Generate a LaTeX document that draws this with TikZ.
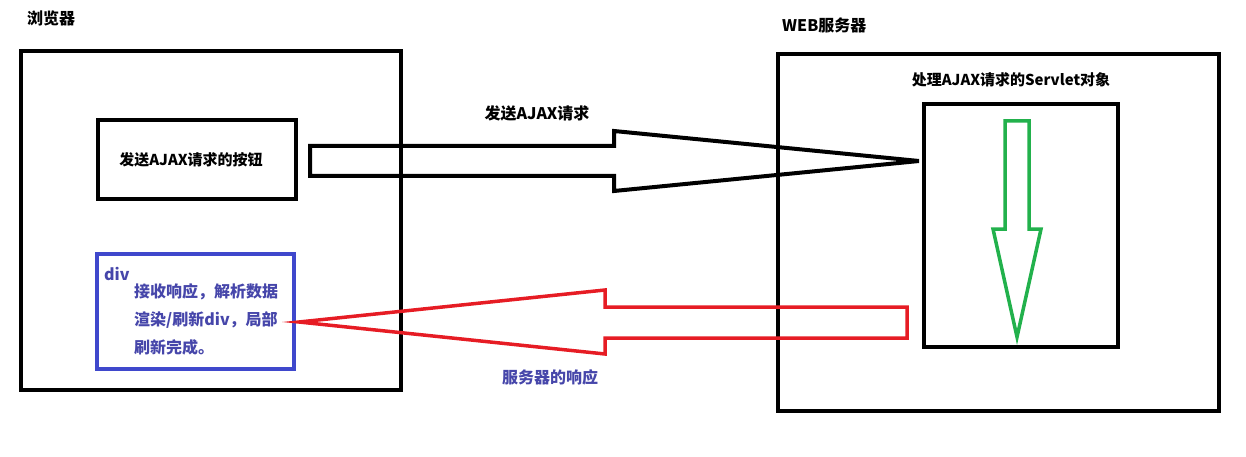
\documentclass[tikz,border=0pt]{standalone}
\usepackage{fontspec}
\setmainfont{Noto Sans CJK SC}
\usepackage{tikz}
\usetikzlibrary{calc}

\definecolor{paintblue}{RGB}{63,72,204}
\definecolor{txtblue}{RGB}{70,70,170}
\definecolor{paintred}{RGB}{230,28,36}
\definecolor{paintgreen}{RGB}{34,177,76}

\begin{document}
\begin{tikzpicture}[x=1pt,y=-1pt,
  box/.style={draw,line width=4pt,inner sep=0pt,outer sep=0pt},
  lbl/.style={font=\fontsize{16}{19}\selectfont\bfseries,inner sep=0pt},
  smalllbl/.style={lbl,font=\fontsize{15}{18}\selectfont\bfseries},
  blockarrow/.style={line width=4pt,line join=miter}]

 \useasboundingbox (0,0) rectangle (1246,457);

% browser side
 \node[box,minimum width=380pt,minimum height=339pt] (browser) at (211,220.5) {};
 \node[lbl,anchor=west] (browserlbl) at (27,18) {浏览器};
 \node[box,minimum width=198pt,minimum height=79pt] (button) at (197,159.5) {};
 \node[smalllbl] (buttonlbl) at ($(button.center)+(-6,0)$) {发送AJAX请求的按钮};
 \node[box,draw=paintblue,line width=3.5pt,minimum width=197pt,minimum height=115pt] (div) at (195.5,311.5) {};
 \node[lbl,text=txtblue,anchor=west] (divlbl) at (104,274) {div};
 \node[lbl,text=txtblue,anchor=north west,align=left,
   font=\fontsize{16}{28}\selectfont\bfseries] (divtxt) at (134,283)
   {接收响应，解析数据\\渲染/刷新div，局部\\刷新完成。};

% server side
 \node[box,minimum width=441pt,minimum height=357pt] (server) at (998.5,232.5) {};
 \node[lbl,anchor=west] (serverlbl) at (782,25) {WEB服务器};
 \node[box,minimum width=194pt,minimum height=243pt] (servlet) at (1021,225.5) {};
 \node[smalllbl] (servletlbl) at (1011,80) {处理AJAX请求的Servlet对象};

% request
 \coordinate (sendtail) at ($(button.east |- 0,161)+(14,0)$);
 \coordinate (sendtip) at ($(servlet.west |- 0,161)+(-5,0)$);
 \draw[blockarrow] (sendtail) ++(0,-15) -- ++(304,0) -- ++(0,-15) -- (sendtip)
   -- ++(-305,30) -- ++(0,-15) -- ++(-304,0) -- cycle;
 \node[lbl] (sendlbl) at (537,113) {发送AJAX请求};

% processing
 \coordinate (proctail) at (1017,121);
 \coordinate (proctip) at (1017,337);
 \draw[blockarrow,paintgreen,line width=3.5pt] (proctail) ++(-12,0) -- ++(0,108) -- ++(-12,0)
   -- (proctip) -- ++(24,-108) -- ++(-12,0) -- ++(0,-108) -- cycle;

% response
 \coordinate (resptail) at (907,323);
 \coordinate (resptip) at ($(div.east)+(5,10.5)$);
 \draw[blockarrow,paintred,line width=3.5pt] (resptail) ++(0,-16) -- ++(-302,0) -- ++(0,-17)
   -- (resptip) -- ++(306,32) -- ++(0,-16) -- ++(302,0) -- cycle;
 \node[lbl,text=txtblue] (resplbl) at (550,377) {服务器的响应};
\end{tikzpicture}
\end{document}
